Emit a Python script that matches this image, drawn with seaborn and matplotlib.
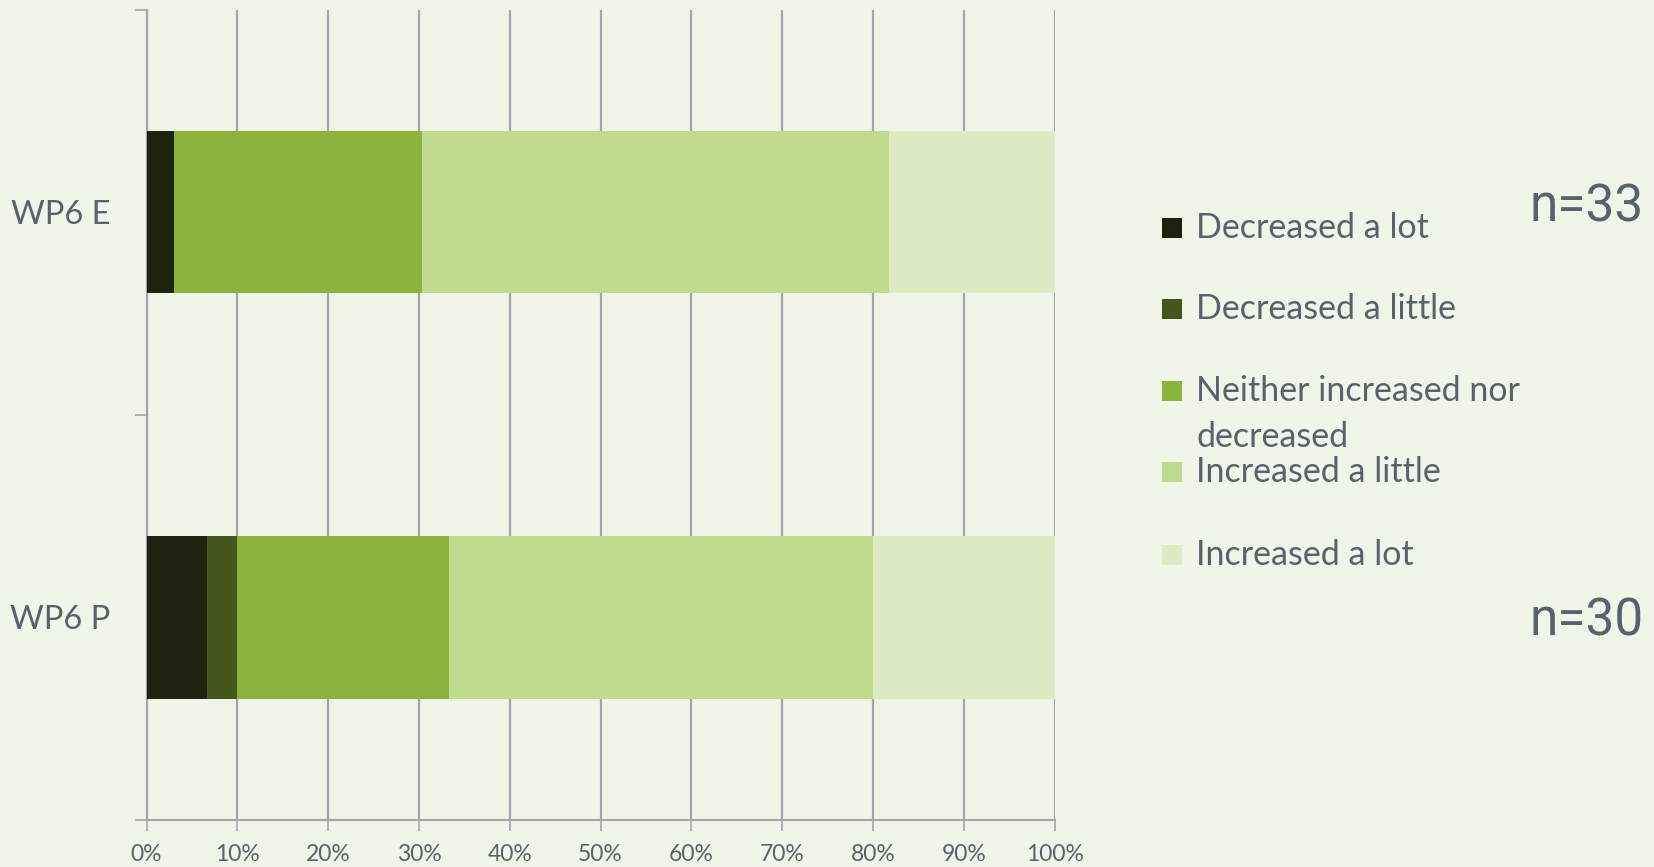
import matplotlib
matplotlib.use("Agg")
import matplotlib.pyplot as plt
from matplotlib.patches import Rectangle
from matplotlib.ticker import FixedLocator
import numpy as np
import pandas as pd
import seaborn as sns

# Survey responses per group
groups = ["WP6 E", "WP6 P"]
group_n = [33, 30]
responses = [
    "Decreased a lot",
    "Decreased a little",
    "Neither increased nor decreased",
    "Increased a little",
    "Increased a lot",
]
decreased_lot = [1, 2]
decreased_little = [0, 1]
neither = [9, 7]
increased_little = [17, 14]
increased_lot = [6, 6]
legend_labels = [
    "Decreased a lot",
    "Decreased a little",
    "Neither increased nor\ndecreased",
    "Increased a little",
    "Increased a lot",
]
x_ticks = [0, 10, 20, 30, 40, 50, 60, 70, 80, 90, 100]
x_tick_labels = ["0%", "10%", "20%", "30%", "40%", "50%", "60%", "70%", "80%", "90%", "100%"]

colors = ["#1C2410", "#44571C", "#8AB43B", "#BFDB8E", "#DDEBC4"]
bg = "#F0F6E7"
text_color = "#58616E"
grid_color = "#A3A6A9"

sns.set_theme(style="white")
plt.rcParams["font.family"] = ["Lato", "DejaVu Sans"]

counts = np.array([decreased_lot, decreased_little, neither,
                   increased_little, increased_lot], dtype=float)
pct = counts / np.array(group_n, dtype=float) * 100
cum = np.cumsum(pct, axis=0)

fig = plt.figure(figsize=(16.54, 8.67), dpi=100, facecolor=bg)
ax = fig.add_axes([0.0886, 0.0542, 0.549, 0.9343])
ax.set_facecolor(bg)

# Stacked bars: draw cumulative totals from the outermost segment inward
for i in range(len(responses) - 1, -1, -1):
    df = pd.DataFrame({"group": groups, "value": cum[i]})
    sns.barplot(data=df, x="value", y="group", orient="y", color=colors[i],
                width=0.4, linewidth=0, saturation=1, errorbar=None, ax=ax,
                zorder=3)

ax.set_xlim(0, 100)
ax.set_ylim(1.5, -0.5)
ax.set_xlabel("")
ax.set_ylabel("")

ax.xaxis.set_major_locator(FixedLocator(x_ticks))
ax.set_xticklabels(x_tick_labels)
ax.grid(axis="x", color=grid_color, linewidth=1.6, zorder=0)
ax.grid(axis="y", visible=False)
ax.set_axisbelow(True)

ax.tick_params(axis="x", which="major", direction="out", length=8, width=1.2,
               color=grid_color, labelsize=16.5, labelcolor=text_color, pad=9,
               bottom=True)
ax.tick_params(axis="y", which="major", length=0, labelsize=23.5,
               labelcolor=text_color, pad=26)
ax.yaxis.set_minor_locator(FixedLocator([-0.5, 0.5, 1.5]))
ax.tick_params(axis="y", which="minor", direction="out", length=9, width=1.2,
               color=grid_color, left=True)

for side in ["top", "right"]:
    ax.spines[side].set_visible(False)
for side in ["left", "bottom"]:
    ax.spines[side].set_color(grid_color)
    ax.spines[side].set_linewidth(1.6)

# Legend drawn in figure pixel space
W, H = fig.get_size_inches() * fig.dpi
legend_rows_y = [228, 309, 391, 472, 555]
for label, color, y in zip(legend_labels, colors, legend_rows_y):
    fig.add_artist(Rectangle(((1162) / W, (H - y - 10) / H), 20 / W, 20 / H,
                             transform=fig.transFigure, facecolor=color,
                             edgecolor="none"))
    lines = label.split("\n")
    for k, line in enumerate(lines):
        fig.text(1196 / W, (H - y - 46 * k) / H, line, fontsize=24.5,
                 color=text_color, va="center", ha="left")

# Sample sizes
for y, n in zip([208, 622], group_n):
    fig.text(1644 / W, (H - y) / H, f"n={n}", fontsize=37, color=text_color,
             family=["Roboto", "DejaVu Sans"], va="center", ha="right")

fig.savefig("out.png", dpi=100, facecolor=bg)
